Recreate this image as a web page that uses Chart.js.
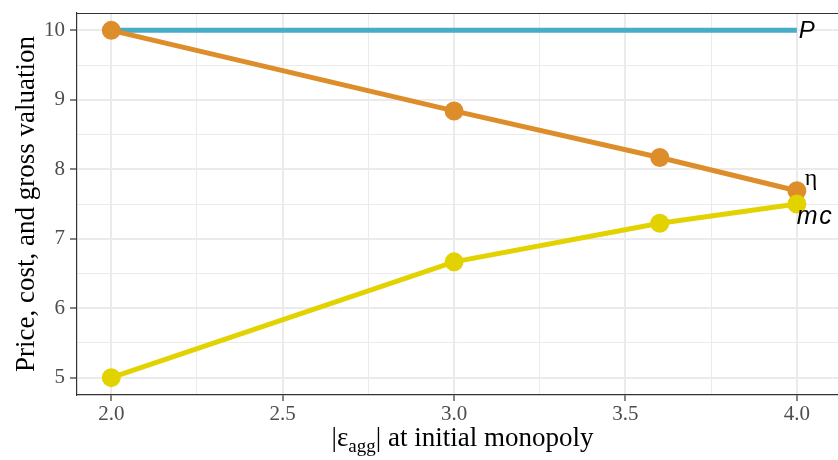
<!DOCTYPE html>
<html><head><meta charset="utf-8">
<script src="https://cdn.jsdelivr.net/npm/chart.js@4"></script>
<style>html,body{margin:0;padding:0;background:#fff}#wrap{width:838px;height:460px}</style>
</head><body><div id="wrap"><canvas id="c" width="838" height="460"></canvas></div>
<script>
const xVals = [2, 3, 3.6, 4];
const priceVals = [10, 10, 10, 10];
const etaVals = [10, 8.84, 8.17, 7.69];
const mcVals = [5, 6.667, 7.222, 7.5];
const xTickVals = [2, 2.25, 2.5, 2.75, 3, 3.25, 3.5, 3.75, 4];
const yTickVals = [5, 5.5, 6, 6.5, 7, 7.5, 8, 8.5, 9, 9.5, 10];
const seriesLabels = ['P', 'η', 'mc'];

const pts = ys => xVals.map((x, i) => ({x, y: ys[i]}));
const isMajorX = v => Math.abs(v * 2 - Math.round(v * 2)) < 1e-6;
const isMajorY = v => Math.abs(v - Math.round(v)) < 1e-6;
const serif = "'Liberation Serif', 'Times New Roman', serif";
const sans = "'Liberation Sans', Arial, sans-serif";

const decor = {
  id: 'decor',
  afterDraw(chart) {
    const ctx = chart.ctx, a = chart.chartArea, xs = chart.scales.x, ys = chart.scales.y;
    ctx.save();
    ctx.strokeStyle = '#333333'; ctx.lineWidth = 1.2;
    ctx.beginPath(); ctx.moveTo(a.left, a.top + 0.5); ctx.lineTo(a.right, a.top + 0.5); ctx.stroke();
    const xe = xs.getPixelForValue(xVals[xVals.length - 1]);
    ctx.fillStyle = '#000';
    ctx.textBaseline = 'middle'; ctx.textAlign = 'left';
    ctx.font = "italic 24px " + sans;
    ctx.fillText(seriesLabels[0], xe + 2, ys.getPixelForValue(priceVals[3]) + 1);
    ctx.font = "24px " + serif;
    ctx.fillText(seriesLabels[1], xe + 8, ys.getPixelForValue(etaVals[3]) - 12);
    ctx.font = "italic 25px " + sans;
    ctx.letterSpacing = '1.5px';
    ctx.fillText(seriesLabels[2], xe, ys.getPixelForValue(mcVals[3]) + 13);
    ctx.letterSpacing = '0px';
    ctx.textBaseline = 'alphabetic';
    const base = 446;
    const parts = [
      {t: '|ε', f: "27px " + serif, dy: 0},
      {t: 'agg', f: "19px " + serif, dy: 6},
      {t: '| at initial monopoly', f: "27px " + serif, dy: 0}
    ];
    let w = 0;
    parts.forEach(p => { ctx.font = p.f; w += ctx.measureText(p.t).width; });
    let x = (a.left + a.right) / 2 - w / 2 + 5;
    parts.forEach(p => { ctx.font = p.f; ctx.fillText(p.t, x, base + p.dy); x += ctx.measureText(p.t).width; });
    ctx.translate(34, (a.top + a.bottom) / 2);
    ctx.rotate(-Math.PI / 2);
    ctx.font = "27px " + serif; ctx.textAlign = 'center';
    ctx.fillText('Price, cost, and gross valuation', 0, 0);
    ctx.restore();
  }
};

new Chart(document.getElementById('c'), {
  type: 'scatter',
  data: {
    datasets: [
      {label: 'mc', data: pts(mcVals), showLine: true, borderColor: '#E2D200', backgroundColor: '#E2D200', borderWidth: 5, pointRadius: 7, pointHoverRadius: 7, order: 0},
      {label: 'eta', data: pts(etaVals), showLine: true, borderColor: '#DD8D29', backgroundColor: '#DD8D29', borderWidth: 5, pointRadius: 7, pointHoverRadius: 7, order: 1},
      {label: 'P', data: pts(priceVals), showLine: true, borderColor: '#46ACC8', backgroundColor: '#46ACC8', borderWidth: 5, pointRadius: 0, pointHoverRadius: 0, order: 2}
    ]
  },
  options: {
    responsive: false, animation: false,
    layout: {autoPadding: false, padding: {top: 13, right: 0, left: 0, bottom: 0}},
    plugins: {legend: {display: false}, tooltip: {enabled: false}},
    scales: {
      x: {
        type: 'linear', min: 1.9, max: 4.12,
        afterBuildTicks: s => { s.ticks = xTickVals.map(v => ({value: v})); },
        afterFit: s => { s.height = 65; s.paddingLeft = 0; s.paddingRight = 0; },
        ticks: {autoSkip: false, maxRotation: 0, padding: 1, color: '#4D4D4D', font: {family: serif, size: 21},
          callback: v => isMajorX(v) ? v.toFixed(1) : ''},
        grid: {color: '#EBEBEB', lineWidth: c => isMajorX(c.tick.value) ? 2 : 1, tickLength: 6,
          tickColor: c => isMajorX(c.tick.value) ? '#333333' : 'rgba(0,0,0,0)', tickWidth: 1.2},
        border: {display: true, color: '#333333', width: 1.2}
      },
      y: {
        type: 'linear', min: 4.75, max: 10.25,
        afterBuildTicks: s => { s.ticks = yTickVals.map(v => ({value: v})); },
        afterFit: s => { s.width = 77; s.paddingTop = 0; s.paddingBottom = 0; },
        ticks: {autoSkip: false, padding: 5, color: '#4D4D4D', font: {family: serif, size: 21},
          callback: v => isMajorY(v) ? String(v) : ''},
        grid: {color: '#EBEBEB', lineWidth: c => isMajorY(c.tick.value) ? 2 : 1, tickLength: 7,
          tickColor: c => isMajorY(c.tick.value) ? '#333333' : 'rgba(0,0,0,0)', tickWidth: 1.2},
        border: {display: true, color: '#333333', width: 1.2}
      }
    }
  },
  plugins: [decor]
});
</script></body></html>
